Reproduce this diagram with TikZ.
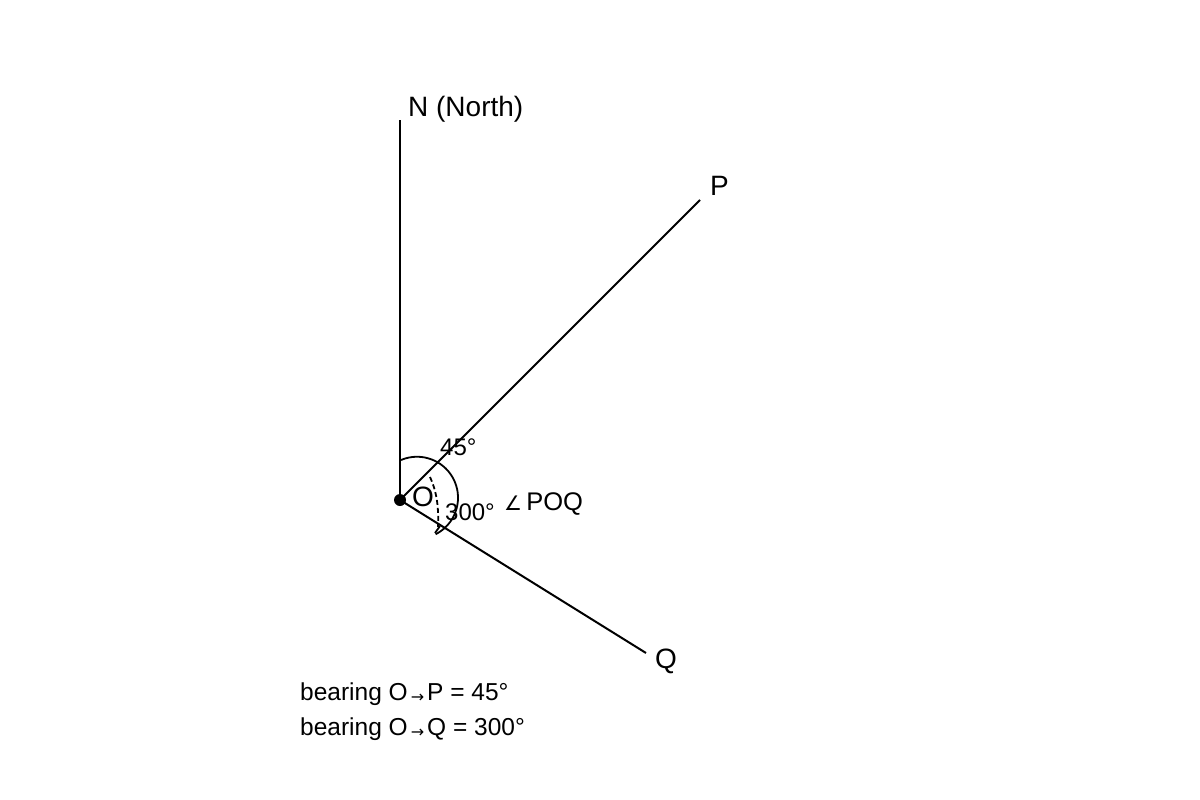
\documentclass[tikz,border=0pt]{standalone}
\usepackage{fontspec}
\setmainfont{Liberation Sans}
\newfontfamily\symfont{DejaVu Sans}
\newcommand\smallarrow{\kern3pt{\symfont\fontsize{16}{18}\selectfont\raisebox{-0.3ex}{→}}\kern3pt}
\begin{document}
\begin{tikzpicture}[x=1pt,y=-1pt,
  ray/.style={line width=2pt},
  lbl/.style={anchor=base west,inner sep=0pt,font=\fontsize{28}{32}\selectfont},
  ang/.style={anchor=base west,inner sep=0pt,font=\fontsize{24}{28}\selectfont},
  note/.style={anchor=base west,inner sep=0pt,font=\fontsize{24.5}{29}\selectfont}]
\useasboundingbox (0,0) rectangle (1200,800);
\coordinate (O) at (400,500);
\coordinate (N) at (400,120);
\coordinate (P) at (700,200);
\coordinate (Q) at (646,653);
\draw[ray] (O) -- (N);
\draw[ray] (O) -- (P);
\draw[ray] (O) -- (Q);
\fill (O) circle (6);
\node[lbl] (nl) at (408,116) {N (North)};
\node[lbl] (pl) at (710,195) {P};
\node[lbl] (ql) at (655,668) {Q};
\node[lbl] (ol) at (412,506) {O};
\node[ang] (a45) at (440,455) {45°};
\node[ang] (a300) at (445,520) {300°};
\node[lbl,font=\fontsize{25.5}{30}\selectfont] (poq) at (504,510) {{\symfont\fontsize{20}{22}\selectfont ∠}\,POQ};
% solid arc
\draw[line width=1.8pt] (401,460) arc[start angle=-113, end angle=63, radius=41];
\coordinate (tipA) at (435,533);
\coordinate (tipB) at (440,526);
\draw[line width=1.8pt] (tipA) -- (tipB);
% dashed arc
\draw[line width=1.8pt,dash pattern=on 5pt off 3pt] (430,477) .. controls (436,490) and (439,505) .. (438,527);
\node[note] (b1) at (300,700) {bearing O\smallarrow P = 45°};
\node[note] (b2) at (300,735) {bearing O\smallarrow Q = 300°};
\end{tikzpicture}
\end{document}
